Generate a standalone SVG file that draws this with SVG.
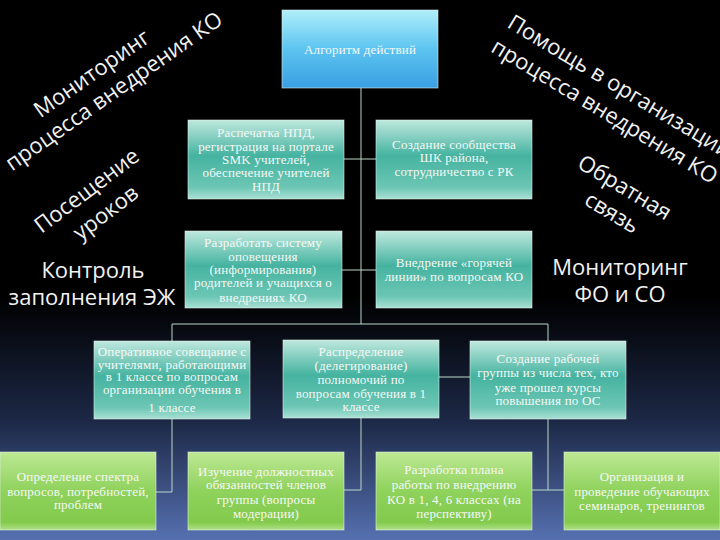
<svg xmlns="http://www.w3.org/2000/svg" width="720" height="540" viewBox="0 0 720 540">
<defs>
<linearGradient id="bg" x1="0" y1="0" x2="0" y2="1">
<stop offset="0" stop-color="#000000"/>
<stop offset="0.55" stop-color="#000000"/>
<stop offset="0.78" stop-color="#1c2846"/>
<stop offset="1" stop-color="#5670b0"/>
</linearGradient>
<linearGradient id="gTeal" x1="0" y1="0" x2="0" y2="1">
<stop offset="0" stop-color="#bfe8de"/>
<stop offset="0.45" stop-color="#45b3a0"/>
<stop offset="0.85" stop-color="#6cc6b4"/>
<stop offset="1" stop-color="#a8e0d4"/>
</linearGradient>
<linearGradient id="gGreen" x1="0" y1="0" x2="0" y2="1">
<stop offset="0" stop-color="#bde894"/>
<stop offset="0.5" stop-color="#8fd25c"/>
<stop offset="0.9" stop-color="#82ca4c"/>
<stop offset="1" stop-color="#b0e088"/>
</linearGradient>
<linearGradient id="gBlue" x1="0" y1="0" x2="0" y2="1">
<stop offset="0" stop-color="#b0eefa"/>
<stop offset="0.5" stop-color="#5cc4f0"/>
<stop offset="1" stop-color="#3a9fe2"/>
</linearGradient>
</defs>
<style>
.box{stroke:#e8f4f0;stroke-width:0.8;stroke-opacity:0.7}
.t{font-family:"Liberation Serif",serif;font-size:13px;letter-spacing:0.2px;fill:#f6f8f6;text-anchor:middle}
.big{font-family:"Open Sans","Noto Sans",sans-serif;font-size:22px;fill:#f2f2f2;text-anchor:middle}
.rt{font-family:"Open Sans","Noto Sans",sans-serif;font-size:22px;fill:#f2f2f2;text-anchor:middle}
.c{fill:none;stroke:#b9d9c8;stroke-width:1}
</style>
<rect width="720" height="540" fill="url(#bg)"/>

<g id="connectors">
<path class="c" d="M361 88 V324"/>
<path class="c" d="M344 159 H376"/>
<path class="c" d="M342 270 H376"/>
<path class="c" d="M172 324 H548"/>
<path class="c" d="M172 324 V341"/>
<path class="c" d="M548 324 V341"/>
<path class="c" d="M172 419 V492 H156"/>
<path class="c" d="M361 418 V490 H344"/>
<path class="c" d="M439 377 H470"/>
<path class="c" d="M548 419 V490 H564"/>
<path class="c" d="M532 490 H548"/>
</g>

<g id="n_top">
<rect class="box" x="282" y="10" width="156" height="78" fill="url(#gBlue)"/>
<text class="t" x="360" y="54">Алгоритм действий</text>
</g>

<g id="n_r1l">
<rect class="box" x="188" y="120" width="156" height="79" fill="url(#gTeal)"/>
<text class="t"><tspan x="266" y="137">Распечатка НПД,</tspan><tspan x="266" y="151">регистрация на портале</tspan><tspan x="266" y="164">SMK учителей,</tspan><tspan x="266" y="177">обеспечение учителей</tspan><tspan x="266" y="191">НПД</tspan></text>
</g>

<g id="n_r1r">
<rect class="box" x="376" y="120" width="156" height="79" fill="url(#gTeal)"/>
<text class="t"><tspan x="454" y="149">Создание сообщества</tspan><tspan x="454" y="162">ШК района,</tspan><tspan x="454" y="176">сотрудничество с РК</tspan></text>
</g>

<g id="n_r2l">
<rect class="box" x="185" y="231" width="157" height="77" fill="url(#gTeal)"/>
<text class="t"><tspan x="263" y="247">Разработать систему</tspan><tspan x="263" y="261">оповещения</tspan><tspan x="263" y="274">(информирования)</tspan><tspan x="263" y="287">родителей и учащихся о</tspan><tspan x="263" y="302">внедрениях  КО</tspan></text>
</g>

<g id="n_r2r">
<rect class="box" x="376" y="231" width="156" height="77" fill="url(#gTeal)"/>
<text class="t"><tspan x="454" y="267">Внедрение «горячей</tspan><tspan x="454" y="281">линии» по вопросам КО</tspan></text>
</g>

<g id="n_r3l">
<rect class="box" x="94" y="341" width="156" height="78" fill="url(#gTeal)"/>
<text class="t"><tspan x="172" y="356">Оперативное совещание с</tspan><tspan x="172" y="369">учителями, работающими</tspan><tspan x="172" y="381">в 1 классе по вопросам</tspan><tspan x="172" y="394">организации обучения в</tspan><tspan x="172" y="412">1 классе</tspan></text>
</g>

<g id="n_r3m">
<rect class="box" x="283" y="340" width="156" height="78" fill="url(#gTeal)"/>
<text class="t"><tspan x="361" y="356">Распределение</tspan><tspan x="361" y="370">(делегирование)</tspan><tspan x="361" y="384">полномочий по</tspan><tspan x="361" y="398">вопросам обучения в 1</tspan><tspan x="361" y="411">классе</tspan></text>
</g>

<g id="n_r3r">
<rect class="box" x="470" y="341" width="156" height="78" fill="url(#gTeal)"/>
<text class="t"><tspan x="548" y="363">Создание рабочей</tspan><tspan x="548" y="377">группы из числа тех, кто</tspan><tspan x="548" y="392">уже прошел курсы</tspan><tspan x="548" y="405">повышения по ОС</tspan></text>
</g>

<g id="n_r4a">
<rect class="box" x="0" y="452" width="156" height="78" fill="url(#gGreen)"/>
<text class="t"><tspan x="78" y="481">Определение спектра</tspan><tspan x="78" y="496">вопросов, потребностей,</tspan><tspan x="78" y="509">проблем</tspan></text>
</g>

<g id="n_r4b">
<rect class="box" x="188" y="452" width="156" height="78" fill="url(#gGreen)"/>
<text class="t"><tspan x="266" y="476">Изучение должностных</tspan><tspan x="266" y="489">обязанностей членов</tspan><tspan x="266" y="504">группы (вопросы</tspan><tspan x="266" y="518">модерации)</tspan></text>
</g>

<g id="n_r4c">
<rect class="box" x="376" y="452" width="156" height="78" fill="url(#gGreen)"/>
<text class="t"><tspan x="454" y="474">Разработка плана</tspan><tspan x="454" y="489">работы по внедрению</tspan><tspan x="454" y="504">КО в 1, 4, 6 классах (на</tspan><tspan x="454" y="518">перспективу)</tspan></text>
</g>

<g id="n_r4d">
<rect class="box" x="564" y="452" width="156" height="78" fill="url(#gGreen)"/>
<text class="t"><tspan x="642" y="481">Организация и</tspan><tspan x="642" y="496">проведение  обучающих</tspan><tspan x="642" y="510">семинаров, тренингов</tspan></text>
</g>

<g id="lbl_monitoring">
<g transform="translate(92,74) rotate(-35)">
<text class="big" x="0" y="7">Мониторинг</text>
<text class="big" x="8" y="34">процесса внедрения КО</text>
</g>
</g>

<g id="lbl_visits">
<g transform="translate(87,191) rotate(-37)">
<text class="big" x="0" y="7">Посещение</text>
<text class="big" x="2" y="36">уроков</text>
</g>
</g>

<g id="lbl_control">
<text class="big" x="93" y="278">Контроль</text>
<text class="big" x="92" y="305">заполнения ЭЖ</text>
</g>

<g id="lbl_help">
<g transform="translate(620,86) rotate(31)">
<text class="rt" x="0" y="8">Помощь в организации</text>
<text class="rt" x="0" y="37">процесса внедрения КО</text>
</g>
</g>

<g id="lbl_feedback">
<g transform="translate(625,187) rotate(31)">
<text class="rt" x="0" y="8">Обратная</text>
<text class="rt" x="2" y="36">связь</text>
</g>
</g>

<g id="lbl_fo">
<text class="big" x="620" y="275">Мониторинг</text>
<text class="big" x="620" y="302">ФО и СО</text>
</g>
</svg>
